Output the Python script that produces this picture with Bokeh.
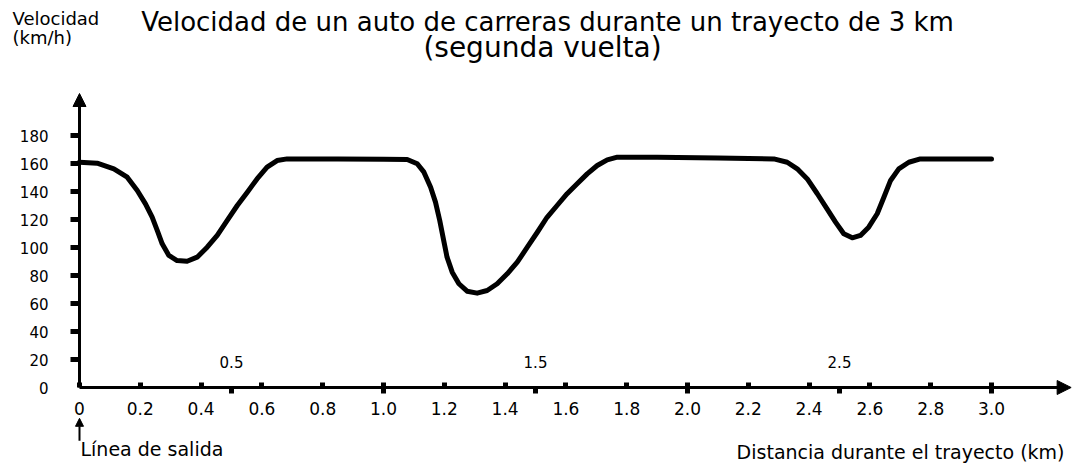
from bokeh.plotting import figure
from bokeh.models import Range1d, FixedTicker, Label, Arrow, NormalHead, LinearAxis
from bokeh.embed import file_html
from bokeh.resources import INLINE

# ---- data ----
distance_km = [0.0, 0.058, 0.113, 0.157, 0.190, 0.217, 0.239, 0.256, 0.272, 0.294,
               0.321, 0.354, 0.387, 0.420, 0.453, 0.486, 0.519, 0.552, 0.584, 0.617,
               0.650, 0.683, 0.85, 1.0, 1.078, 1.111, 1.133, 1.155, 1.171, 1.185,
               1.198, 1.209, 1.226, 1.248, 1.275, 1.308, 1.341, 1.374, 1.407, 1.440,
               1.473, 1.506, 1.538, 1.571, 1.604, 1.637, 1.670, 1.703, 1.736, 1.769,
               1.9, 2.1, 2.284, 2.328, 2.361, 2.394, 2.427, 2.459, 2.487, 2.514,
               2.542, 2.569, 2.596, 2.624, 2.646, 2.668, 2.695, 2.728, 2.766, 2.9, 3.0]
speed_kmh = [160.9, 160.2, 156.2, 150.2, 140.7, 131.2, 121.7, 112.1, 102.6, 94.3,
             90.7, 90.2, 93.1, 100.2, 108.6, 119.3, 130.0, 139.5, 149.0, 157.4,
             162.1, 163.3, 163.2, 163.0, 162.9, 159.8, 153.8, 143.1, 132.4, 119.3,
             105.0, 93.1, 82.4, 74.1, 68.8, 67.4, 69.3, 74.1, 81.2, 89.5,
             100.2, 110.9, 121.6, 130.0, 138.4, 145.5, 152.6, 158.6, 162.6, 164.5,
             164.4, 164.0, 163.3, 160.9, 156.2, 149.0, 138.4, 127.6, 118.1, 109.8,
             106.9, 108.6, 114.5, 124.1, 135.9, 147.9, 156.2, 160.9, 163.3, 163.3, 163.3]

x_ticks = [0, 0.2, 0.4, 0.6, 0.8, 1.0, 1.2, 1.4, 1.6, 1.8, 2.0, 2.2, 2.4, 2.6, 2.8, 3.0]
x_tick_labels = ["0", "0.2", "0.4", "0.6", "0.8", "1.0", "1.2", "1.4", "1.6", "1.8",
                 "2.0", "2.2", "2.4", "2.6", "2.8", "3.0"]
x_half_ticks = [0.5, 1.0, 1.5, 2.0, 2.5, 3.0]
x_half_label_pos = [0.5, 1.5, 2.5]
x_half_labels = ["0.5", "1.5", "2.5"]
y_ticks = [0, 20, 40, 60, 80, 100, 120, 140, 160, 180]
y_tick_labels = ["0", "20", "40", "60", "80", "100", "120", "140", "160", "180"]

title_1 = "Velocidad de un auto de carreras durante un trayecto de 3 km"
title_2 = "(segunda vuelta)"
y_title_1 = "Velocidad"
y_title_2 = "(km/h)"
x_title = "Distancia durante el trayecto (km)"
start_label = "Línea de salida"

FONT = "DejaVu Sans"

# frame covers the whole canvas; axes are pinned at the data origin
p = figure(width=1077, height=464, output_backend="svg", toolbar_location=None,
           x_range=Range1d(-0.25987, 3.28289), y_range=Range1d(-55.0, 276.4286),
           x_axis_type=None, y_axis_type=None,
           min_border_left=0, min_border_right=0, min_border_top=0, min_border_bottom=0)
p.outline_line_color = None
p.background_fill_color = "white"
p.border_fill_color = "white"

xa = LinearAxis(ticker=FixedTicker(ticks=x_ticks, minor_ticks=x_half_ticks),
                fixed_location=0, bounds=(0, 3.22))
xa.major_label_overrides = {t: l for t, l in zip(x_ticks, x_tick_labels)}
xa.axis_line_width = 3
xa.axis_line_color = "black"
xa.major_tick_in = 5
xa.major_tick_out = 0
xa.major_tick_line_width = 5
xa.minor_tick_in = 0
xa.minor_tick_out = 6
xa.minor_tick_line_width = 5
xa.major_label_standoff = 8
xa.major_label_text_font = FONT
xa.major_label_text_font_size = "17px"
xa.major_label_text_color = "black"
p.add_layout(xa, "below")

ya = LinearAxis(ticker=FixedTicker(ticks=y_ticks[1:]), fixed_location=0, bounds=(0, 203))
ya.major_label_overrides = {t: l for t, l in zip(y_ticks, y_tick_labels)}
ya.axis_line_width = 3
ya.axis_line_color = "black"
ya.major_tick_in = 0
ya.major_tick_out = 9
ya.major_tick_line_width = 5
ya.minor_tick_out = 0
ya.minor_tick_in = 0
ya.major_label_standoff = 22
ya.major_label_text_font = FONT
ya.major_label_text_font_size = "15px"
ya.major_label_text_color = "black"
p.add_layout(ya, "left")

# curve
p.line(distance_km, speed_kmh, line_color="black", line_width=5,
       line_join="round", line_cap="round")

# axis arrows
head = dict(fill_color="black", line_color="black")
p.add_layout(Arrow(x_start=0, y_start=195, x_end=0, y_end=210, line_width=3,
                   end=NormalHead(size=13, **head)))
p.add_layout(Arrow(x_start=3.2, y_start=0, x_end=3.262, y_end=0, line_width=3,
                   end=NormalHead(size=14, **head)))
# start-line arrow
p.add_layout(Arrow(x_start=0, y_start=-38, x_end=0, y_end=-22, line_width=2,
                   end=NormalHead(size=8, **head)))

def lab(text, x, y, size, align="left", baseline="alphabetic", x_offset=0, y_offset=6):
    p.add_layout(Label(x=x, y=y, x_offset=x_offset, y_offset=y_offset, text=text,
                       text_font=FONT, text_font_size=size, text_align=align,
                       text_baseline=baseline, text_color="black"))

for t, l in zip(x_half_label_pos, x_half_labels):
    lab(l, t, 0, "15px", "center", y_offset=26)

lab(y_tick_labels[0], 0, y_ticks[0], "15px", "right", "middle", x_offset=-31, y_offset=0)
lab(y_title_1, -0.2204, 259.29, "18px")
lab(y_title_2, -0.2204, 245.71, "18px")
lab(title_1, 1.5395, 256.43, "26px", "center")
lab(title_2, 1.5230, 238.57, "28px", "center")
lab(start_label, 0.0033, -47.9, "19px")
lab(x_title, 3.2401, -50.0, "19px", "right")

open("out.html", "w").write(file_html(p, INLINE))
